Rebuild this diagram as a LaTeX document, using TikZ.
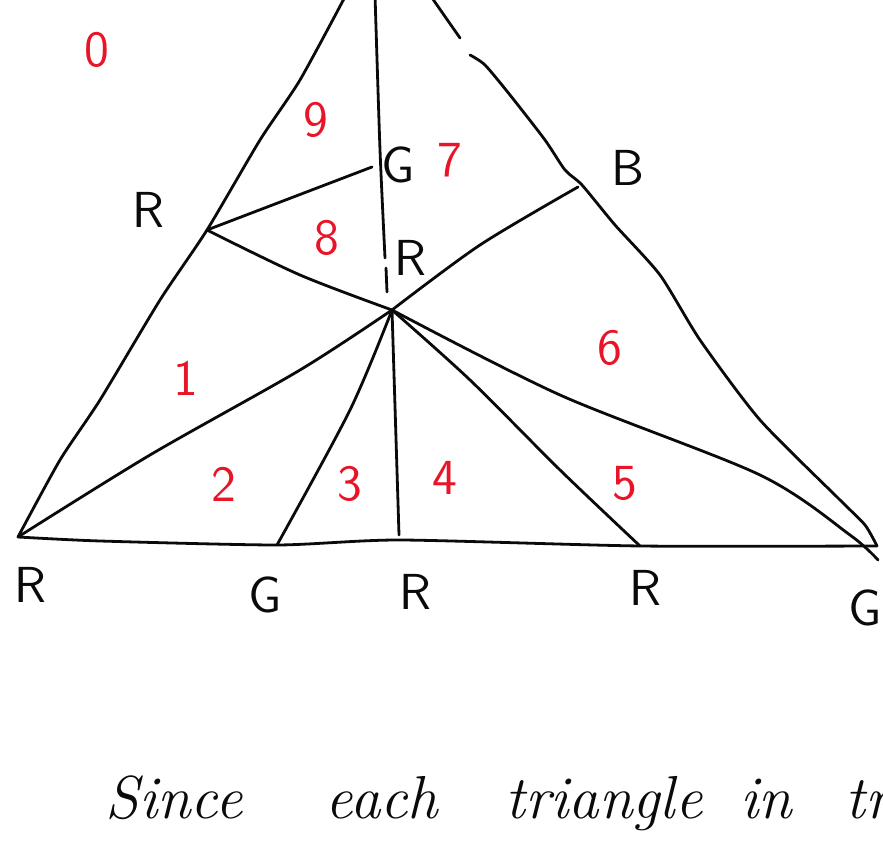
\documentclass[tikz,border=0pt]{standalone}
\usepackage{xcolor}
\usetikzlibrary{positioning, calc}
\definecolor{skInk}{RGB}{10,10,10}
\definecolor{skRed}{RGB}{232,20,40}

\begin{document}
\begin{tikzpicture}[x=0.1mm,y=-0.1mm,font=\sffamily,
  E/.style={draw=skInk,line width=0.28mm,line cap=round,line join=round},
  V/.style={font=\sffamily\Large,text=skInk,inner sep=0pt},
  N/.style={font=\sffamily\Large,text=skRed,inner sep=0pt},
  W/.style={font=\itshape\LARGE,text=skInk,inner sep=0pt,anchor=base west}]
\useasboundingbox (0,0) rectangle (883,852);
\clip (0,0) rectangle (883,852);

% corners and marked points
\coordinate (BL) at (18,537);
\coordinate (BR) at (877,546);
\coordinate (C)  at (392,310);
\coordinate (L)  at (207,230);
\coordinate (M)  at (372,167);
\coordinate (Bp) at (578,187);
\coordinate (G1) at (277,545);
\coordinate (R2) at (399,535);
\coordinate (R3) at (640,546);

% outer triangle
\draw[E] plot[smooth,tension=0.4] coordinates {(BL) (60,460) (100,400) (160,300) (L) (260,140) (300,80) (346,-5)};
\draw[E] plot[smooth,tension=0.4] coordinates {(430,-5) (446,18) (460,38)};
\draw[E] plot[smooth,tension=0.4] coordinates {(470,55) (485,65) (510,95) (545,140) (565,170) (582,185) (615,225) (660,275) (700,340) (760,420) (840,500) (865,525) (BR)};
\draw[E] plot[smooth,tension=0.4] coordinates {(BL) (100,541) (G1) (400,540) (R3) (BR)};

% middle vertical line
\draw[E] plot[smooth,tension=0.4] coordinates {(375,-5) (380,150) (385,258)};
\draw[E] (386,268) -- (387,292);
\draw[E] (C) -- (R2);

% fan from the centre
\draw[E] plot[smooth,tension=0.5] coordinates {(L) (M)};
\draw[E] plot[smooth,tension=0.5] coordinates {(L) (300,275) (C)};
\draw[E] plot[smooth,tension=0.5] coordinates {(C) (480,245) (Bp)};
\draw[E] plot[smooth,tension=0.5] coordinates {(C) (300,370) (150,455) (BL)};
\draw[E] plot[smooth,tension=0.5] coordinates {(C) (350,410) (G1)};
\draw[E] plot[smooth,tension=0.5] coordinates {(C) (470,380) (560,470) (R3)};
\draw[E] plot[smooth,tension=0.5] coordinates {(C) (560,395) (760,475) (850,535) (878,560)};

% vertex colours
\node[V] (vL)  at (148,210) {R};
\node[V] (vM)  at (398,165) {G};
\node[V] (vC)  at (410,258) {R};
\node[V] (vB)  at (628,168) {B};
\node[V] (vBL) at (30,585)  {R};
\node[V] (vG1) at (265,595) {G};
\node[V] (vR2) at (415,592) {R};
\node[V] (vR3) at (645,588) {R};
\node[V] (vBR) at (865,608) {G};

% triangle numbers
\node[N] (n0) at (97,50)   {0};
\node[N] (n9) at (316,120) {9};
\node[N] (n7) at (450,160) {7};
\node[N] (n8) at (327,238) {8};
\node[N] (n1) at (186,378) {1};
\node[N] (n6) at (610,348) {6};
\node[N] (n2) at (224,484) {2};
\node[N] (n3) at (350,484) {3};
\node[N] (n4) at (445,478) {4};
\node[N] (n5) at (625,483) {5};

% text below
\node[W] (w1) at (105,818) {Since};
\node[W] (w2) at (325,818) {each};
\node[W] (w3) at (505,818) {triangle};
\node[W] (w4) at (740,818) {in};
\node[W] (w5) at (845,818) {tr};
\end{tikzpicture}
\end{document}
